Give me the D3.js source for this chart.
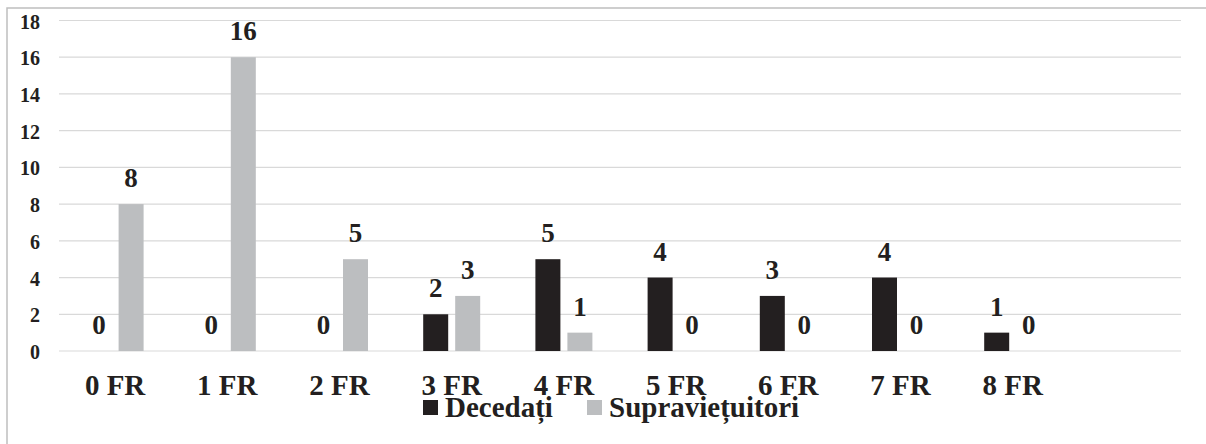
<!DOCTYPE html>
<html><head><meta charset="utf-8">
<script src="https://cdn.jsdelivr.net/npm/d3@7"></script>
<style>
html,body{margin:0;padding:0;background:#fff;}
svg{display:block;}
svg text{font-family:"Liberation Serif","Times New Roman",Tinos,"DejaVu Serif",serif;font-weight:bold;}
</style></head>
<body>
<svg id="chart" width="1206" height="444"></svg>
<script>
const categories = ["0 FR","1 FR","2 FR","3 FR","4 FR","5 FR","6 FR","7 FR","8 FR"];
const seriesNames = ["Decedați","Supraviețuitori"];
const decedati = [0,0,0,2,5,4,3,4,1];
const supravietuitori = [8,16,5,3,1,0,0,0,0];
const yTicks = [0,2,4,6,8,10,12,14,16,18];
const colors = ["#231f20","#bcbec0"];

const svg = d3.select("#chart");
const W = 1206, H = 444;
const plot = {left:59, right:1181, top:20.5, bottom:351};

// outer frame
svg.append("path").attr("d", `M7,${H+5} L7,8 L${W+5},8`)
  .attr("fill","none").attr("stroke","#bfbfbf").attr("stroke-width",1.5);

const domain = categories.concat([" "]); // trailing empty slot as in the original
const x = d3.scaleBand().domain(domain).range([plot.left, plot.right]).padding(0);
const bw = x.bandwidth();
const x1 = d3.scaleBand().domain(seriesNames).range([bw/2-28.5, bw/2+28.5]).paddingInner(0.21875).paddingOuter(0);
const y = d3.scaleLinear().domain([0,18]).range([plot.bottom, plot.top]);

// grid
svg.append("g").selectAll("line").data(yTicks).join("line")
  .attr("x1",plot.left).attr("x2",plot.right)
  .attr("y1",d=>y(d)).attr("y2",d=>y(d))
  .attr("stroke","#d9d9d9").attr("stroke-width",1.2);

// y axis labels
const yAxis = d3.axisLeft(y).tickValues(yTicks).tickSize(0).tickPadding(0);
const ga = svg.append("g").attr("transform",`translate(40,0)`).call(yAxis);
ga.attr("font-family",null);
ga.select(".domain").remove();
ga.selectAll("text").attr("font-size",20).attr("fill","#231f20").attr("dy","0.38em");

// x axis labels
const xAxis = d3.axisBottom(x).tickValues(categories).tickSize(0).tickPadding(0);
const gx = svg.append("g").attr("transform",`translate(0,${plot.bottom})`).call(xAxis);
gx.attr("font-family",null);
gx.select(".domain").remove();
gx.selectAll("text").attr("font-size",29).attr("fill","#231f20").attr("dy",null).attr("y",44);

const series = [decedati, supravietuitori];
const rows = [];
categories.forEach((c,i)=>{ seriesNames.forEach((s,j)=>{ rows.push({c, s, v: series[j][i], j}); }); });

svg.append("g").selectAll("rect").data(rows.filter(d=>d.v>0)).join("rect")
  .attr("x",d=>x(d.c)+x1(d.s)).attr("width",x1.bandwidth())
  .attr("y",d=>y(d.v)).attr("height",d=>y(0)-y(d.v))
  .attr("fill",d=>colors[d.j]);

svg.append("g").selectAll("text").data(rows).join("text")
  .attr("x",d=>x(d.c)+x1(d.s)+x1.bandwidth()/2)
  .attr("y",d=>y(d.v)-17)
  .attr("text-anchor","middle").attr("font-size",27).attr("fill","#231f20")
  .text(d=>d.v);

// legend
const lg = svg.append("g").attr("transform","translate(423,400)");
const items = [{n:seriesNames[0],c:colors[0],x:0},{n:seriesNames[1],c:colors[1],x:164}];
items.forEach(it=>{
  lg.append("rect").attr("x",it.x).attr("y",0).attr("width",15).attr("height",15).attr("fill",it.c);
  lg.append("text").attr("x",it.x+22).attr("y",16.5).attr("font-size",29).attr("fill","#231f20").text(it.n);
});
</script>
</body></html>
